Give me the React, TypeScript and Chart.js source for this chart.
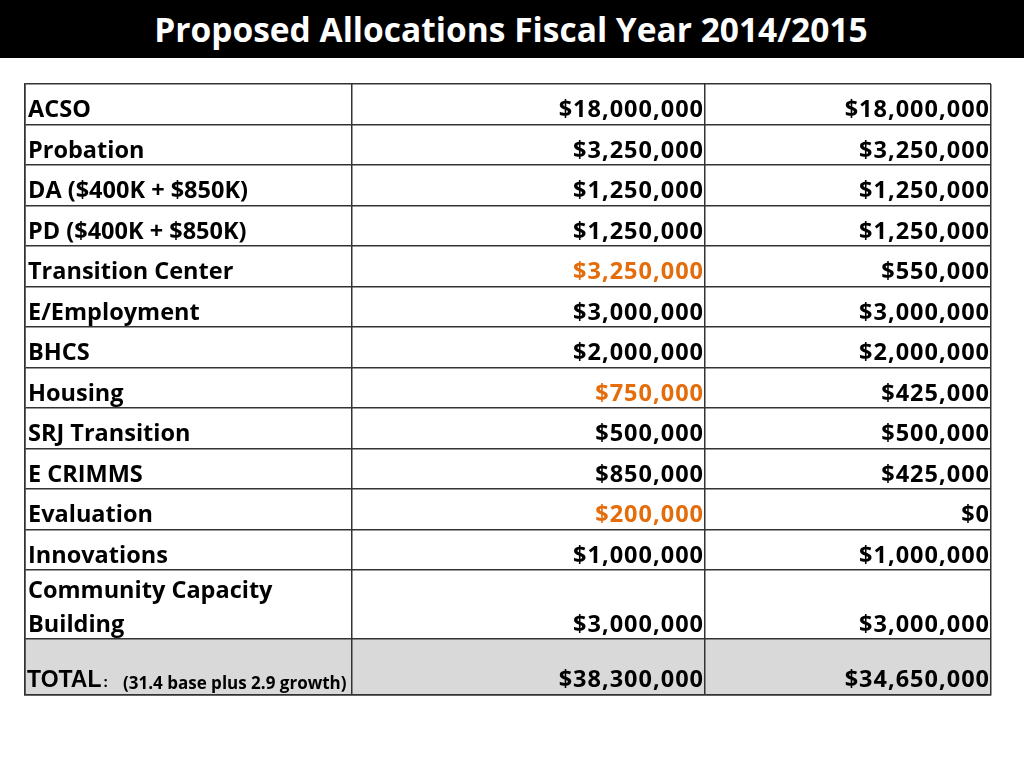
import React, { useEffect, useRef } from "react";
import { Chart, registerables } from "chart.js";

Chart.register(...registerables);

// ---- data ----
const rowLabels: string[][] = [
  ["ACSO"],
  ["Probation"],
  ["DA ($400K + $850K)"],
  ["PD ($400K + $850K)"],
  ["Transition Center"],
  ["E/Employment"],
  ["BHCS"],
  ["Housing"],
  ["SRJ Transition"],
  ["E CRIMMS"],
  ["Evaluation"],
  ["Innovations"],
  ["Community Capacity", "Building"],
];
const proposed = [18000000, 3250000, 1250000, 1250000, 3250000, 3000000, 2000000, 750000, 500000, 850000, 200000, 1000000, 3000000];
const revised = [18000000, 3250000, 1250000, 1250000, 550000, 3000000, 2000000, 425000, 500000, 425000, 0, 1000000, 3000000];
const proposedHighlighted = [false, false, false, false, true, false, false, true, false, false, true, false, false];
const totalLabel = "TOTAL";
const totalNote = "(31.4 base plus 2.9 growth)";
const totals = [38300000, 34650000];
const title = "Proposed Allocations Fiscal Year 2014/2015";

// ---- layout (relative sizes) ----
const columnWidths = [327, 353, 286];
const rowHeights = [1, 1, 1, 1, 1, 1, 1, 1, 1, 1, 1, 1, 1.7, 1.38];

const colEdges = columnWidths.reduce<number[]>((a, w) => [...a, a[a.length - 1] + w], [0]);
const rowEdges = rowHeights.reduce<number[]>((a, h) => [...a, a[a.length - 1] + h], [0]);

const fmt = (n: number) => "$" + n.toLocaleString("en-US");

const ORANGE = "#E46C0A";
const CELL_FONT = "bold 23.5px 'Open Sans'";

const tablePlugin = {
  id: "tableCells",
  beforeDraw(chart: any) {
    const { ctx, scales } = chart;
    const x = scales.x, y = scales.y;
    const last = rowHeights.length - 1;
    const top = y.getPixelForValue(rowEdges[last]);
    const bottom = y.getPixelForValue(rowEdges[last + 1]);
    const left = x.getPixelForValue(colEdges[0]);
    const right = x.getPixelForValue(colEdges[colEdges.length - 1]);
    ctx.save();
    ctx.fillStyle = "#d9d9d9";
    ctx.fillRect(left, top, right - left, bottom - top);
    ctx.restore();
  },
  afterDraw(chart: any) {
    const { ctx, scales } = chart;
    const x = scales.x, y = scales.y;
    const labelX = x.getPixelForValue(colEdges[0]) + 3;
    const col1R = x.getPixelForValue(colEdges[2]) - 1;
    const col2R = x.getPixelForValue(colEdges[3]) - 1;
    const drawValue = (text: string, xr: number, yb: number, color: string) => {
      ctx.font = CELL_FONT;
      ctx.letterSpacing = "1px";
      ctx.textAlign = "right";
      ctx.fillStyle = color;
      ctx.fillText(text, xr, yb);
      ctx.letterSpacing = "0px";
    };
    ctx.save();
    ctx.textBaseline = "alphabetic";
    rowLabels.forEach((lines, i) => {
      const base = y.getPixelForValue(rowEdges[i + 1]) - 7.5;
      ctx.font = CELL_FONT;
      ctx.fillStyle = "#000";
      ctx.textAlign = "left";
      lines.forEach((ln, j) => {
        ctx.fillText(ln, labelX, base - (lines.length - 1 - j) * 34);
      });
      drawValue(fmt(proposed[i]), col1R, base, proposedHighlighted[i] ? ORANGE : "#000");
      drawValue(fmt(revised[i]), col2R, base, "#000");
    });
    // total row
    const tb = y.getPixelForValue(rowEdges[rowEdges.length - 1]) - 8.5;
    ctx.fillStyle = "#000";
    ctx.textAlign = "left";
    ctx.font = "bold 23px 'Liberation Sans'";
    ctx.fillText(totalLabel, labelX - 1, tb);
    const tw = ctx.measureText(totalLabel).width;
    ctx.font = "bold 15px 'Open Sans'";
    ctx.fillText(":", labelX + tw + 1, tb);
    ctx.font = "bold 17px 'Open Sans'";
    ctx.fillText(totalNote, labelX + 95, tb + 2);
    drawValue(fmt(totals[0]), col1R, tb, "#000");
    drawValue(fmt(totals[1]), col2R, tb, "#000");
    ctx.restore();
  },
};

export default function App() {
  const ref = useRef<HTMLCanvasElement>(null);
  useEffect(() => {
    if (!ref.current) return;
    const gridColor = "#333333";
    const chart = new Chart(ref.current, {
      type: "scatter",
      data: { datasets: [] },
      options: {
        animation: false,
        responsive: false,
        events: [],
        layout: { padding: { top: 26, left: 25, right: 33, bottom: 73 } },
        plugins: { legend: { display: false }, tooltip: { enabled: false }, title: { display: false } },
        scales: {
          x: {
            type: "linear",
            min: colEdges[0],
            max: colEdges[colEdges.length - 1],
            afterBuildTicks: (s: any) => {
              s.ticks = colEdges.map((v) => ({ value: v }));
            },
            ticks: { display: false },
            grid: { color: gridColor, lineWidth: 1.5, drawTicks: false },
            border: { display: true, color: gridColor, width: 1.5 },
          },
          y: {
            type: "linear",
            reverse: true,
            min: rowEdges[0],
            max: rowEdges[rowEdges.length - 1],
            afterBuildTicks: (s: any) => {
              s.ticks = rowEdges.map((v) => ({ value: v }));
            },
            ticks: { display: false },
            grid: { color: gridColor, lineWidth: 1.5, drawTicks: false },
            border: { display: true, color: gridColor, width: 1.5 },
          },
        },
      },
      plugins: [tablePlugin],
    });
    return () => chart.destroy();
  }, []);

  return (
    <div style={{ position: "fixed", top: 0, left: 0, width: 1024, height: 768, background: "#fff" }}>
      <div
        style={{
          position: "absolute",
          top: 0,
          left: 0,
          width: 1024,
          height: 58,
          background: "#000",
          color: "#fff",
          fontFamily: "'Open Sans'",
          fontWeight: 700,
          fontSize: 33.5,
          display: "flex",
          alignItems: "center",
          justifyContent: "center",
          boxSizing: "border-box",
        }}
      >
        <span style={{ position: "relative", left: -1, top: 0 }}>{title}</span>
      </div>
      <canvas ref={ref} width={1024} height={710} style={{ position: "absolute", top: 58, left: 0, width: 1024, height: 710 }} />
    </div>
  );
}
